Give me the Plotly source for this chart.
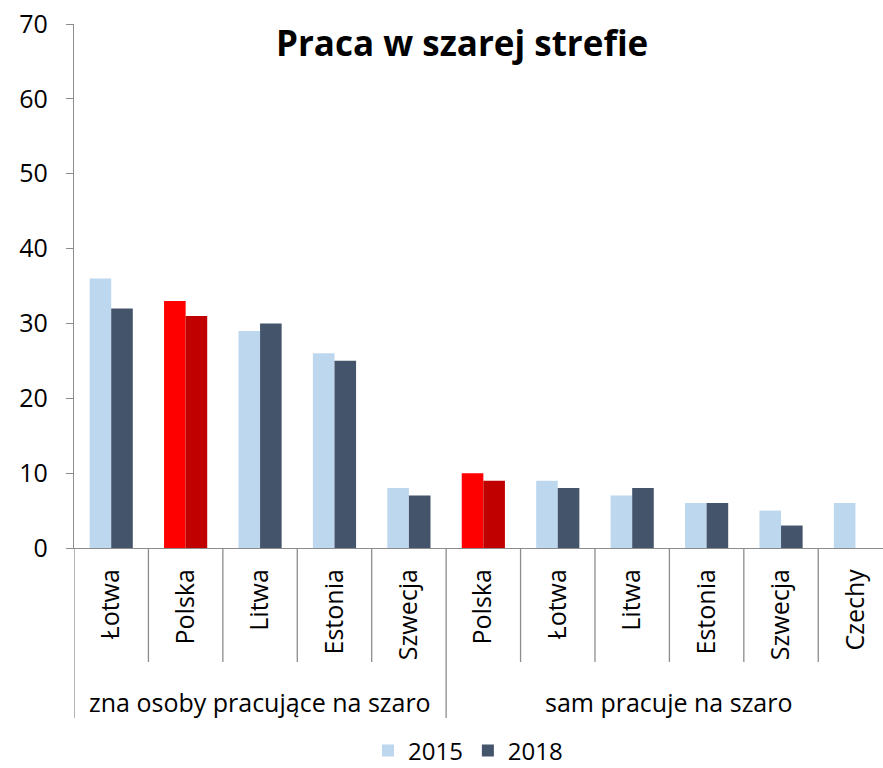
import plotly.graph_objects as go

groups = ["zna osoby pracujące na szaro", "sam pracuje na szaro"]
countries_g1 = ["Łotwa", "Polska", "Litwa", "Estonia", "Szwecja"]
countries_g2 = ["Polska", "Łotwa", "Litwa", "Estonia", "Szwecja", "Czechy"]
v2015_g1 = [36, 33, 29, 26, 8]
v2018_g1 = [32, 31, 30, 25, 7]
v2015_g2 = [10, 9, 7, 6, 5, 6]
v2018_g2 = [9, 8, 8, 6, 3, None]
series_names = ["2015", "2018"]
y_ticks = [0, 10, 20, 30, 40, 50, 60, 70]

countries = countries_g1 + countries_g2
v2015 = v2015_g1 + v2015_g2
v2018 = v2018_g1 + v2018_g2
xpos = list(range(len(countries)))

C15, C18 = "#BDD7EE", "#44546A"
P15, P18 = "#FF0000", "#C00000"
col15 = [P15 if c == "Polska" else C15 for c in countries]
col18 = [P18 if c == "Polska" else C18 for c in countries]

FONT = "Open Sans"
AXC = "#8C8C8C"

fig = go.Figure()
fig.add_trace(go.Bar(x=xpos, y=v2015, name=series_names[0], marker=dict(color=col15, line=dict(width=0))))
fig.add_trace(go.Bar(x=xpos, y=v2018, name=series_names[1], marker=dict(color=col18, line=dict(width=0))))

n = len(countries)
g1n = len(countries_g1)
plot_h = 524.0
shapes = []
for k in range(1, n):
    if k == g1n:
        continue
    shapes.append(dict(type="line", xref="x", yref="paper", x0=k - 0.5, x1=k - 0.5,
                       y0=0, y1=-114 / plot_h, line=dict(color=AXC, width=1.3)))
for k in [0, g1n, n]:
    shapes.append(dict(type="line", xref="x", yref="paper", x0=k - 0.5, x1=k - 0.5,
                       y0=0, y1=-170 / plot_h, line=dict(color=AXC, width=1.3)))

annotations = [
    dict(text="<b>Praca w szarej strefie</b>", xref="paper", yref="paper", x=0.48, y=(548 - 43) / plot_h,
         showarrow=False, font=dict(family=FONT, size=35, color="black"), xanchor="center", yanchor="middle"),
    dict(text=groups[0], xref="x", yref="paper", x=(g1n - 1) / 2, y=-154 / plot_h,
         showarrow=False, font=dict(family=FONT, size=25, color="black"), xanchor="center", yanchor="middle"),
    dict(text=groups[1], xref="x", yref="paper", x=(g1n - 0.5 + n - 0.5) / 2, y=-154 / plot_h,
         showarrow=False, font=dict(family=FONT, size=25, color="black"), xanchor="center", yanchor="middle"),
]

fig.update_layout(
    width=883, height=768,
    margin=dict(l=74, r=0, t=24, b=220, autoexpand=False),
    paper_bgcolor="white", plot_bgcolor="white",
    barmode="group", bargap=0.42, bargroupgap=0,
    font=dict(family=FONT, color="black"),
    showlegend=True,
    legend=dict(orientation="h", x=0.487, xanchor="center", y=-203 / plot_h, yanchor="middle",
                font=dict(family=FONT, size=24, color="black"), itemwidth=30, traceorder="normal"),
    shapes=shapes, annotations=annotations,
    xaxis=dict(range=[-0.5, 10.37], tickmode="array", tickvals=xpos, ticktext=countries,
               tickangle=-90, ticks="", showline=True, linecolor=AXC, linewidth=1.3,
               automargin=False, ticklabelstandoff=10, ticklabeloverflow="allow",
               showgrid=False, zeroline=False, tickfont=dict(family=FONT, size=25, color="black")),
    yaxis=dict(range=[0, 70], tickmode="array", tickvals=y_ticks, ticks="outside", ticklen=7,
               tickcolor=AXC, tickwidth=1.3, showline=True, linecolor=AXC, linewidth=1.3,
               automargin=False, ticklabeloverflow="allow", ticklabelstandoff=13,
               showgrid=False, zeroline=False, tickfont=dict(family=FONT, size=25, color="black")),
)

fig.write_html("out.html", config={"displayModeBar": False},
               post_script="document.body.style.margin='0';")
